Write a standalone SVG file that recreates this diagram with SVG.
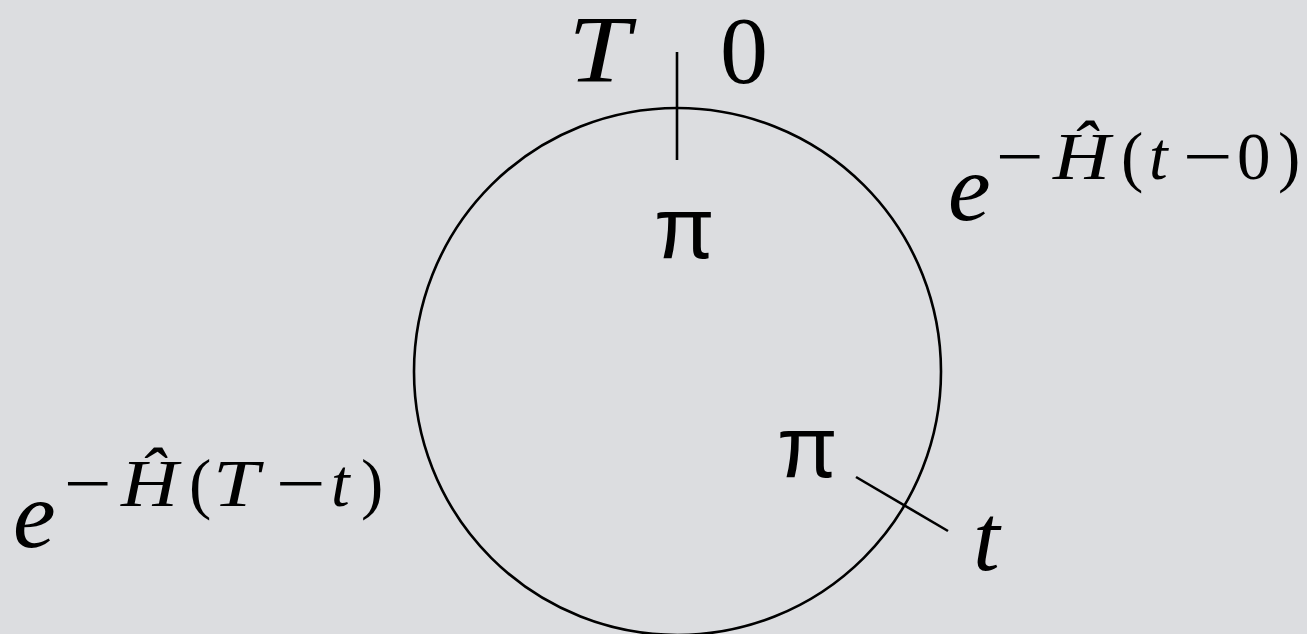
<svg xmlns="http://www.w3.org/2000/svg" width="1307" height="634" viewBox="0 0 1307 634">
<style>
.ln{stroke:#000;stroke-width:2.6;fill:none}
.mi{font-family:'Liberation Serif',serif;font-style:italic;fill:#000}
.mr{font-family:'Liberation Serif',serif;font-style:normal;fill:#000}
.pi{font-family:'Liberation Sans',sans-serif;fill:#000}
.big{font-size:96px}
.sup{font-size:67px}
</style>
<rect width="1307" height="634" fill="#dcdde0"/>
<g id="circle">
<circle class="ln" cx="677.5" cy="371.5" r="263.5"/>
</g>
<g id="connectors">
<line class="ln" x1="677" y1="52" x2="677" y2="160"/>
<line class="ln" x1="856" y1="477" x2="948" y2="531"/>
</g>
<g id="label-T">
<text class="mi big" font-family="Liberation Serif" x="568" y="82" textLength="62" lengthAdjust="spacingAndGlyphs">T</text>
</g>
<g id="label-0">
<text class="mr big" font-family="Liberation Serif" x="720" y="83">0</text>
</g>
<g id="label-pi-top">
<text class="pi" font-size="88" x="654" y="258">π</text>
</g>
<g id="label-pi-bottom">
<text class="pi" font-size="88" x="777" y="477">π</text>
</g>
<g id="label-t">
<text class="mi big" font-family="Liberation Serif" x="973" y="570">t</text>
</g>
<g id="label-left">
<text class="mi big" font-family="Liberation Serif" x="13" y="547">e</text>
<text class="mr sup" font-family="Liberation Serif" x="64" y="506" textLength="48" lengthAdjust="spacingAndGlyphs">−</text>
<text class="mi sup" font-family="Liberation Serif" x="121" y="506" textLength="57" lengthAdjust="spacingAndGlyphs">Ĥ</text>
<text class="mr sup" font-family="Liberation Serif" x="189" y="506">(</text>
<text class="mi sup" font-family="Liberation Serif" x="213" y="506" textLength="46" lengthAdjust="spacingAndGlyphs">T</text>
<text class="mr sup" font-family="Liberation Serif" x="276" y="506" textLength="50" lengthAdjust="spacingAndGlyphs">−</text>
<text class="mi sup" font-family="Liberation Serif" x="331" y="506">t</text>
<text class="mr sup" font-family="Liberation Serif" x="361" y="506">)</text>
</g>
<g id="label-right">
<text class="mi big" font-family="Liberation Serif" x="948" y="220">e</text>
<text class="mr sup" font-family="Liberation Serif" x="996" y="179" textLength="48" lengthAdjust="spacingAndGlyphs">−</text>
<text class="mi sup" font-family="Liberation Serif" x="1053" y="179" textLength="57" lengthAdjust="spacingAndGlyphs">Ĥ</text>
<text class="mr sup" font-family="Liberation Serif" x="1121" y="179">(</text>
<text class="mi sup" font-family="Liberation Serif" x="1149" y="179">t</text>
<text class="mr sup" font-family="Liberation Serif" x="1183" y="179" textLength="50" lengthAdjust="spacingAndGlyphs">−</text>
<text class="mr sup" font-family="Liberation Serif" x="1237" y="179">0</text>
<text class="mr sup" font-family="Liberation Serif" x="1278" y="179">)</text>
</g>
</svg>
